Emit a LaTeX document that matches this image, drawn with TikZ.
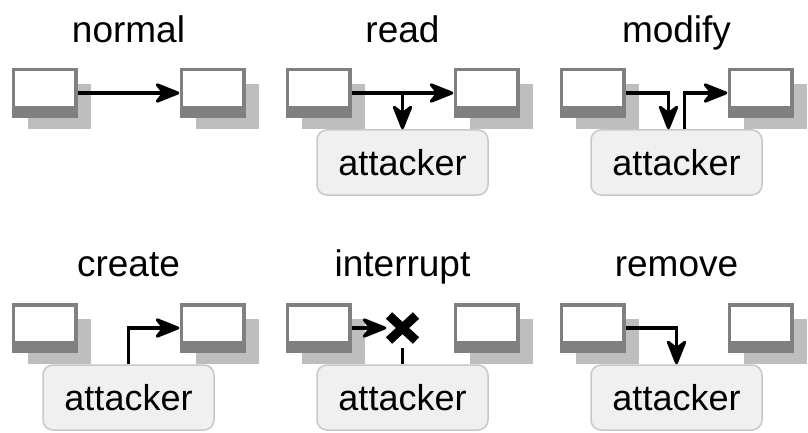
\documentclass[tikz,border=0pt]{standalone}
\usepackage{fontspec}
\setmainfont{Liberation Sans}
\usetikzlibrary{arrows.meta,calc}
\definecolor{pcbody}{HTML}{808080}
\definecolor{pcshade}{HTML}{BEBEBE}
\definecolor{attfill}{HTML}{F0F0F0}
\definecolor{attline}{HTML}{C8C8C8}
\tikzset{
  pc/.style={rectangle, fill=pcbody, minimum width=66pt, minimum height=50pt, inner sep=0pt},
  title/.style={anchor=base, inner sep=0pt, font=\fontsize{37}{44}\selectfont},
  attacker/.style={rectangle, rounded corners=10pt, draw=attline, line width=1.5pt, fill=attfill,
    minimum width=171pt, minimum height=65pt, inner sep=0pt, font=\fontsize{36}{43}\selectfont},
  link/.style={line width=3.6pt},
  headtip/.tip={Stealth[length=29pt,width=23pt,inset=9pt,round,line width=3pt]},
  arr/.style={link, arrows={-headtip}},
  xmark/.style={line width=9pt},
}
% one computer: name, centre x, centre y (screen with shadow behind it)
\newcommand\pcunit[3]{%
  \fill[pcshade] (#2-17,#3-9) rectangle (#2+46,#3+36);
  \node[pc] (#1) at (#2,#3) {};
  \fill[white] ($(#1.north west)+(3.7,3.7)$) rectangle ($(#1.north east)+(-3.3,38)$);
}
\begin{document}
\begin{tikzpicture}[x=1pt,y=-1pt]
\useasboundingbox (0,0) rectangle (808,433);

% ---- top row ----
\node[title] (tnormal) at (128.5,42.5) {normal};
\node[title] (tread)   at (402.5,42.5) {read};
\node[title] (tmodify) at (676.5,42.5) {modify};

\pcunit{aL}{44.5}{93}
\pcunit{aR}{212.5}{93}
\pcunit{bL}{318.5}{93}
\pcunit{bR}{486.5}{93}
\pcunit{cL}{592.5}{93}
\pcunit{cR}{760.5}{93}

\node[attacker] (attb) at (402.5,162.5) {attacker};
\node[attacker] (attc) at (676.5,162.5) {attacker};

% normal
\draw[arr] (aL.east) -- (aR.west);
% read
\draw[arr] (bL.east) -- (bR.west);
\draw[arr] (bL.east -| attb.north) -- (attb.north);
% modify
\draw[arr] (cL.east) -| ($(attc.north)+(-8,0)$);
\draw[arr] ($(attc.north)+(8,0)$) |- (cR.west);

% ---- bottom row ----
\node[title] (tcreate)    at (128.5,276.5) {create};
\node[title] (tinterrupt) at (402.5,276.5) {interrupt};
\node[title] (tremove)    at (676.5,276.5) {remove};

\pcunit{dL}{44.5}{328}
\pcunit{dR}{212.5}{328}
\pcunit{eL}{318.5}{328}
\pcunit{eR}{486.5}{328}
\pcunit{fL}{592.5}{328}
\pcunit{fR}{760.5}{328}

\node[attacker] (attd) at (128.5,397.5) {attacker};
\node[attacker] (atte) at (402.5,397.5) {attacker};
\node[attacker] (attf) at (676.5,397.5) {attacker};

% create
\draw[arr] (attd.north) |- (dR.west);
% interrupt
\node[rectangle, minimum width=32pt, minimum height=32pt, inner sep=0pt] (cut) at (402.5,328) {};
\draw[xmark] ($(cut)+(-13.5,-12.5)$) -- ($(cut)+(13.5,12.5)$);
\draw[xmark] ($(cut)+(-13.5,12.5)$) -- ($(cut)+(13.5,-12.5)$);
\draw[arr] (eL.east) -- (cut.west);
\draw[link] ($(cut.south)+(0,4)$) -- (atte.north);
% remove
\draw[arr] (fL.east) -| (attf.north);
\end{tikzpicture}
\end{document}
